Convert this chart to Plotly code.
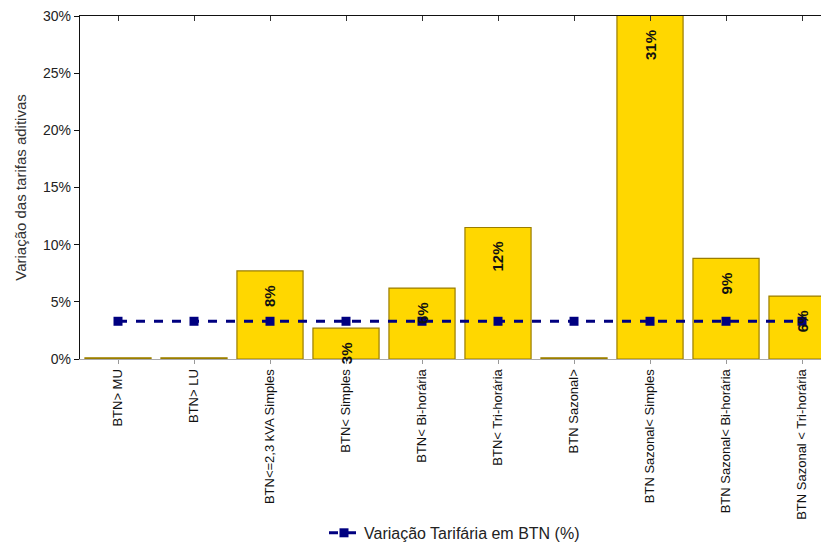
import plotly.graph_objects as go

categories = ["BTN> MU", "BTN> LU", "BTN<=2,3 kVA Simples", "BTN< Simples", "BTN< Bi-horária",
              "BTN< Tri-horária", "BTN Sazonal>", "BTN Sazonal< Simples", "BTN Sazonal< Bi-horária",
              "BTN Sazonal < Tri-horária"]
bar_values = [0.1, 0.1, 7.7, 2.7, 6.2, 11.5, 0.1, 31.0, 8.8, 5.5]
bar_labels = ["", "", "8%", "3%", "6%", "12%", "", "31%", "9%", "6%"]
line_values = [3.3] * 10
line_name = "Variação Tarifária em BTN (%)"
y_title = "Variação das tarifas aditivas"
y_ticks = [0, 5, 10, 15, 20, 25, 30]
y_ticktext = ["0%", "5%", "10%", "15%", "20%", "25%", "30%"]

YMAX = 30
xs = list(range(len(categories)))

fig = go.Figure()
fig.add_trace(go.Bar(
    x=xs, y=bar_values, width=0.87,
    marker=dict(color="#FFD700", line=dict(color="#9A7D00", width=1.2)),
    showlegend=False, hoverinfo="skip",
))
fig.add_trace(go.Scatter(
    x=xs, y=line_values, mode="lines+markers", name=line_name,
    line=dict(color="#000080", width=3, dash="dash"),
    marker=dict(symbol="square", size=9, color="#000080"),
))

for x, v, lab in zip(xs, bar_values, bar_labels):
    if not lab:
        continue
    top = min(v, YMAX)
    fig.add_annotation(x=x, y=top, text="<b>" + lab + "</b>", textangle=-90, showarrow=False,
                       xref="x", yref="y", yanchor="top", yshift=-12,
                       font=dict(family="Arial", size=15, color="#111"))

fig.update_layout(
    width=821, height=535,
    margin=dict(l=72, r=0, t=8, b=184, autoexpand=False),
    plot_bgcolor="white", paper_bgcolor="white",
    font=dict(family="Arial", color="#222"),
    legend=dict(orientation="h", x=0.5, xanchor="center", xref="paper",
                y=-0.507, yanchor="middle", font=dict(size=16, color="#222")),
    xaxis=dict(
        automargin=False,
        range=[-0.5, 9.355], tickmode="array", tickvals=xs, ticktext=categories,
        tickangle=-90, tickfont=dict(size=13, color="#111"),
        tickson="boundaries", ticks="outside", ticklen=4, tickcolor="#999",
        showline=True, linecolor="#aaa", linewidth=1, showgrid=False, zeroline=False,
    ),
    xaxis2=dict(
        automargin=False,
        overlaying="x", side="top", matches="x", range=[-0.5, 9.355],
        tickmode="array", tickvals=xs, showticklabels=False,
        tickson="boundaries", ticks="inside", ticklen=5, tickcolor="#333",
        showline=True, linecolor="#111", linewidth=1.3, showgrid=False, zeroline=False,
    ),
    yaxis=dict(
        automargin=False,
        range=[0, YMAX], tickmode="array", tickvals=y_ticks, ticktext=y_ticktext,
        ticklabeloverflow="allow",
        tickfont=dict(size=14, color="#222"), ticks="outside", ticklen=5, tickcolor="#111",
        showline=True, linecolor="#111", linewidth=1.3, showgrid=False, zeroline=False,
        title=dict(text=y_title, font=dict(size=15, color="#333"), standoff=12),
    ),
)
fig.add_trace(go.Scatter(x=[0], y=[None], xaxis="x2", showlegend=False, hoverinfo="skip"))

fig.write_html("out.html")
